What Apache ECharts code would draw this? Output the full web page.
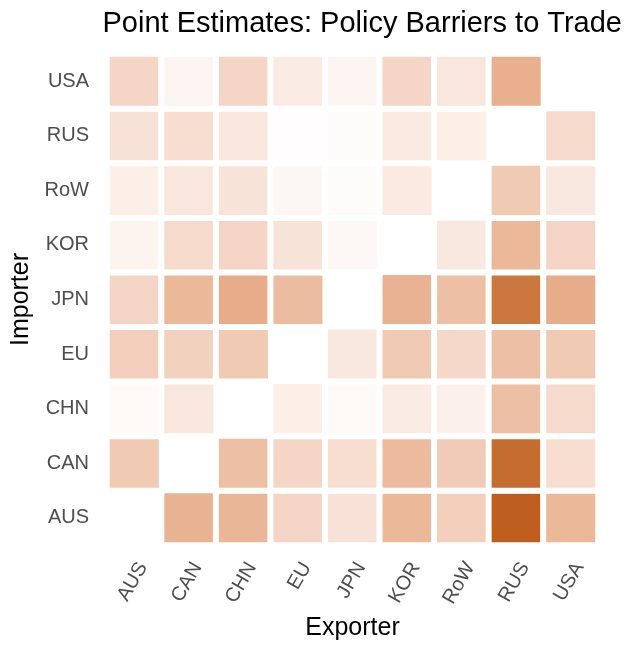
<!DOCTYPE html>
<html><head><meta charset="utf-8">
<script src="https://cdn.jsdelivr.net/npm/echarts@6/dist/echarts.min.js"></script>
<style>html,body{margin:0;padding:0;background:#fff}#c{width:630px;height:646px}</style>
</head><body><div id="c"></div>
<script>
const exporters = ['AUS','CAN','CHN','EU','JPN','KOR','RoW','RUS','USA'];
const importers = ['AUS','CAN','CHN','EU','JPN','KOR','RoW','RUS','USA'];
// rows: importer (same order as importers), columns: exporter; null = diagonal
const rowAUS = [null, 0.48, 0.46, 0.26, 0.18, 0.45, 0.30, 1.00, 0.45];
const rowCAN = [0.33, null, 0.40, 0.25, 0.20, 0.43, 0.32, 0.92, 0.20];
const rowCHN = [0.03, 0.15, null, 0.10, 0.03, 0.12, 0.09, 0.40, 0.22];
const rowEU  = [0.30, 0.28, 0.33, null, 0.14, 0.33, 0.24, 0.40, 0.33];
const rowJPN = [0.26, 0.45, 0.52, 0.42, null, 0.48, 0.40, 0.86, 0.52];
const rowKOR = [0.07, 0.22, 0.26, 0.17, 0.04, null, 0.14, 0.45, 0.26];
const rowRoW = [0.10, 0.15, 0.17, 0.05, 0.02, 0.13, null, 0.33, 0.14];
const rowRUS = [0.18, 0.20, 0.15, 0.01, 0.02, 0.13, 0.10, null, 0.22];
const rowUSA = [0.25, 0.06, 0.25, 0.12, 0.06, 0.25, 0.15, 0.50, null];
const rows = [rowAUS,rowCAN,rowCHN,rowEU,rowJPN,rowKOR,rowRoW,rowRUS,rowUSA];
const data = [];
rows.forEach((r, yi) => r.forEach((v, xi) => { if (v !== null) data.push([xi, yi, v]); }));
const chart = echarts.init(document.getElementById('c'), null, {renderer:'canvas'});
chart.setOption({
  animation:false,
  backgroundColor:'#fff',
  title:{text:'Point Estimates: Policy Barriers to Trade', right:3, top:4,
    textStyle:{fontFamily:'Liberation Sans', fontSize:29, fontWeight:'normal', color:'#000'}},
  grid:{left:107, top:54, width:491, height:491},
  xAxis:{type:'category', data:exporters, name:'Exporter', nameLocation:'middle', nameGap:71,
    nameTextStyle:{fontFamily:'Liberation Sans', fontSize:25, color:'#000'},
    axisLine:{show:false}, axisTick:{show:false}, splitLine:{show:false},
    axisLabel:{rotate:60, margin:14, verticalAlign:'top', fontFamily:'Liberation Sans', fontSize:20, color:'#4d4d4d'}},
  yAxis:{type:'category', data:importers, name:'Importer', nameLocation:'middle', nameGap:66,
    nameTextStyle:{fontFamily:'Liberation Sans', fontSize:25, color:'#000'},
    axisLine:{show:false}, axisTick:{show:false}, splitLine:{show:false},
    axisLabel:{margin:18, fontFamily:'Liberation Sans', fontSize:20, color:'#4d4d4d'}},
  visualMap:{show:false, min:0, max:1, dimension:2,
    inRange:{color:['#ffffff','#f5d6c6','#e8b08f','#d68a58','#bd5e1e']}},
  series:[{type:'heatmap', data:data, itemStyle:{borderColor:'#fff', borderWidth:6}}]
});
</script></body></html>
